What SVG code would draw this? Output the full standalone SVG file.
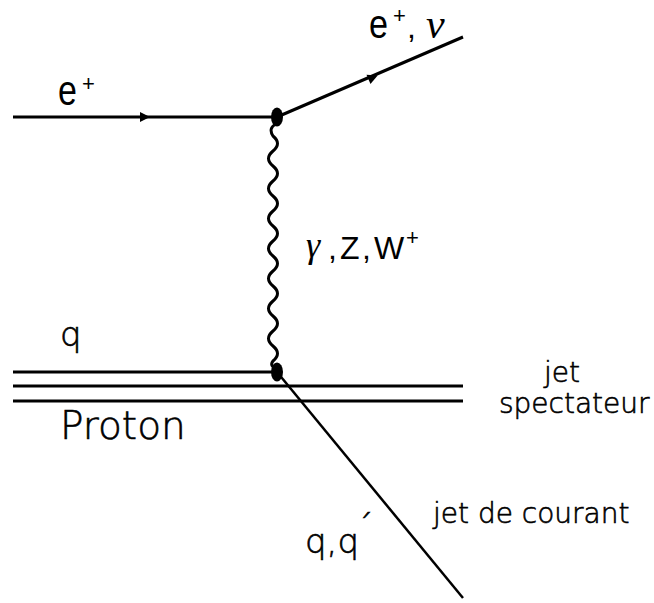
<svg xmlns="http://www.w3.org/2000/svg" width="654" height="603" viewBox="0 0 654 603">
<style>
.ln{stroke:#000;stroke-width:3;fill:none}
.thin{stroke:#000;stroke-width:2.5;fill:none}
.lbl{font-family:"DejaVu Sans",sans-serif;font-weight:200;fill:#000;stroke:#000;stroke-width:0.6}
.ar{font-family:"Liberation Sans",Arial,sans-serif;fill:#000}
.gr{font-family:"Liberation Serif",serif;font-style:italic;fill:#000}
</style>
<defs>
<polygon id="arr" points="-6,-5 4,0 -6,5" fill="#000"/>
</defs>
<rect width="654" height="603" fill="#fff"/>
<g id="connectors">
<line class="ln" x1="13" y1="117" x2="277" y2="117"/>
<use href="#arr" transform="translate(146,117)"/>
<line class="ln" x1="277" y1="117" x2="463" y2="37"/>
<use href="#arr" transform="translate(374,77) rotate(-23.3)"/>
<path class="ln" d="M276,124 q-8,4 -3,12 q9,7.5 0,15 t0,15 t0,15 t0,15 t0,15 t0,15 t0,15 t0,15 t0,15 t0,15 t0,15 t0,15 t0,15 t0,15 t0,15 q-4,5 4,8"/>
<line class="ln" x1="13" y1="372" x2="277" y2="372"/>
<line class="ln" x1="13" y1="386" x2="463" y2="386"/>
<line class="ln" x1="13" y1="401" x2="463" y2="401"/>
<line class="thin" x1="277" y1="372" x2="463" y2="598"/>
</g>
<g id="vertex-top"><ellipse cx="277" cy="117" rx="6" ry="9.5" fill="#000"/></g>
<g id="vertex-bottom"><ellipse cx="277" cy="372" rx="6" ry="9.5" fill="#000"/></g>
<g id="label-e-in">
<text class="ar" font-size="40" transform="translate(58,105) scale(0.85,1.05)">e</text>
<text class="ar" font-size="22" x="82" y="91">+</text>
</g>
<g id="label-e-out">
<text class="ar" font-size="38" transform="translate(369,38) scale(0.9,1.05)">e</text>
<text class="ar" font-size="22" x="393" y="23">+</text>
<text class="ar" font-size="32" x="407" y="38">,</text>
<text class="gr" font-size="42" x="426" y="38">ν</text>
</g>
<g id="label-boson">
<text class="gr" font-size="36" x="306" y="257">γ</text>
<text class="ar" font-size="32" x="328" y="259">,</text>
<text class="ar" font-size="32" x="340" y="259">Z</text>
<text class="ar" font-size="32" x="362" y="259">,</text>
<text class="ar" font-size="32" x="374" y="259">W</text>
<text class="ar" font-size="22" x="406" y="245">+</text>
</g>
<g id="label-q"><text class="lbl" font-size="34" x="60" y="346">q</text></g>
<g id="label-proton"><text class="lbl" font-size="39" x="60" y="439">Proton</text></g>
<g id="label-spectator">
<text class="lbl" font-size="28" x="544" y="382">jet</text>
<text class="lbl" font-size="28" x="499" y="413">spectateur</text>
</g>
<g id="label-current"><text class="lbl" font-size="28" x="433" y="523">jet de courant</text></g>
<g id="label-qq"><text class="lbl" font-size="34" x="305" y="553">q,q<tspan dx="-2" dy="-14">´</tspan></text></g>
</svg>
